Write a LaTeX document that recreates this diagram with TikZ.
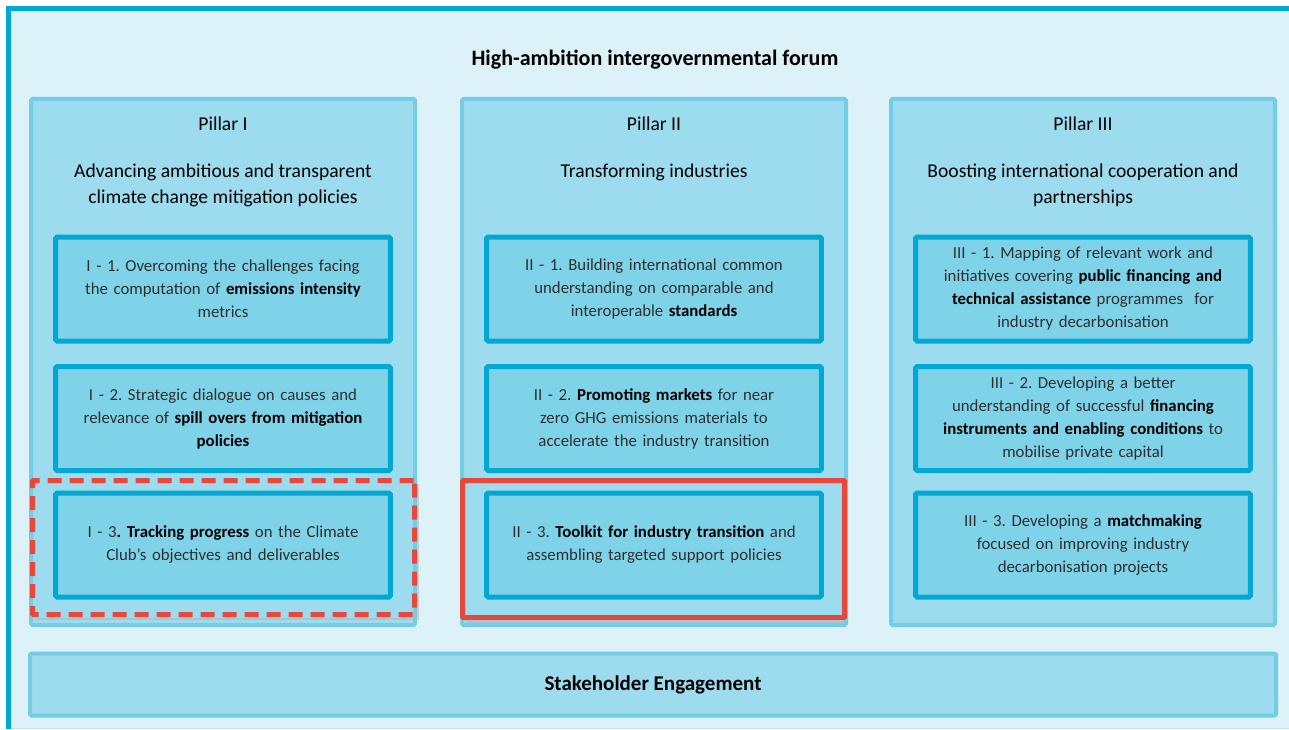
\documentclass[tikz,border=0pt]{standalone}
\usepackage{fontspec}
\setmainfont{Carlito}
\frenchspacing
\definecolor{bgblue}{HTML}{DCF1F8}
\definecolor{frameblue}{HTML}{00A9D4}
\definecolor{pillarfill}{HTML}{9DDCEE}
\definecolor{pillarline}{HTML}{74CDE6}
\definecolor{itemfill}{HTML}{7FD3E9}
\definecolor{itemline}{HTML}{00A8D3}
\definecolor{focusred}{HTML}{E8473B}
\definecolor{bodygray}{HTML}{2E2E2E}
\newcommand{\hl}[1]{\textcolor{black}{\textbf{#1}}}

\begin{document}
\begin{tikzpicture}[x=1pt,y=-1pt,
  pillar/.style={draw=pillarline, fill=pillarfill, line width=4pt, rounded corners=1.5pt,
    minimum width=384pt, minimum height=526pt, inner sep=0pt},
  item/.style={draw=itemline, fill=itemfill, line width=5pt, rounded corners=1.5pt,
    minimum width=331pt, minimum height=104pt, text width=328pt, align=center,
    text=bodygray, font=\fontsize{16.8}{23}\selectfont},
  heading/.style={align=center, font=\fontsize{19.6}{26}\selectfont},
  focus/.style={draw=focusred, line width=5pt, rounded corners=1pt, inner sep=0pt},
  shade line/.style={black!30, line width=2pt, opacity=0.5}]
  \useasboundingbox (0,0) rectangle (1289,730);
  \fill[bgblue] (6,6) rectangle (1289,729);
  \draw[pillarline!45, line width=1pt] (8,728.5) -- (1289,728.5);
  \draw[frameblue, line width=5pt] (1290,8.5) -- (8.5,8.5) -- (8.5,729);
  \node[font=\bfseries\fontsize{22}{26}\selectfont] (forum) at (655,59.5) {High-ambition intergovernmental forum};

  % the three pillars
  \foreach \n/\x in {1/223,2/654,3/1083}
    \node[pillar] (pillar\n) at (\x,362) {};
  \node[heading] (p1name) at (223,123.5) {Pillar I};
  \node[heading] (p2name) at (654,123.5) {Pillar II};
  \node[heading] (p3name) at (1083,123.5) {Pillar III};
  \node[heading] (p1title) at (223,185.5) {Advancing ambitious and transparent\\climate change mitigation policies};
  \node[heading] (p2title) at (654,172.5) {Transforming industries};
  \node[heading] (p3title) at (1083,185.5) {Boosting international cooperation and\\partnerships};

  % pillar I
  \node[item] (i1) at (223,289) {I - 1. Overcoming the challenges facing\\the computation of \hl{emissions intensity}\\metrics};
  \node[item] (i2) at (223,418.5) {I - 2. Strategic dialogue on causes and\\relevance of \hl{spill overs from mitigation}\\\hl{policies}};
  \node[item] (i3) at (223,545) {I - 3\hl{. Tracking progress} on the Climate\\Club's objectives and deliverables};
  % pillar II
  \node[item] (ii1) at (654,289) {II - 1. Building international common\\understanding on comparable and\\interoperable \hl{standards}};
  \node[item] (ii2) at (654,418.5) {II - 2. \hl{Promoting markets} for near\\zero GHG emissions materials to\\accelerate the industry transition};
  \node[item] (ii3) at (654,545) {II - 3. \hl{Toolkit for industry transition} and\\assembling targeted support policies};
  % pillar III
  \node[item] (iii1) at (1083,289) {III - 1. Mapping of relevant work and\\initiatives covering \hl{public financing and}\\\hl{technical assistance} programmes~ for\\industry decarbonisation};
  \node[item] (iii2) at (1083,418.5) {III - 2. Developing a better\\understanding of successful \hl{financing}\\\hl{instruments and enabling conditions} to\\mobilise private capital};
  \node[item] (iii3) at (1083,545) {III - 3. Developing a \hl{matchmaking}\\focused on improving industry\\decarbonisation projects};

  % highlighted work streams
  \draw[shade line] (36,619) -- (418,619) -- (418,484);
  \node[focus, dash pattern=on 14pt off 8pt, minimum width=382pt, minimum height=134pt] (focusi) at (223.5,547.5) {};
  \draw[shade line] (466,622) -- (848,622);
  \node[focus, minimum width=382pt, minimum height=137pt] (focusii) at (653.5,549) {};

  \node[pillar, minimum width=1246pt, minimum height=62pt,
    font=\bfseries\fontsize{21}{24}\selectfont] (stake) at (653,684.5) {Stakeholder Engagement};
\end{tikzpicture}
\end{document}
